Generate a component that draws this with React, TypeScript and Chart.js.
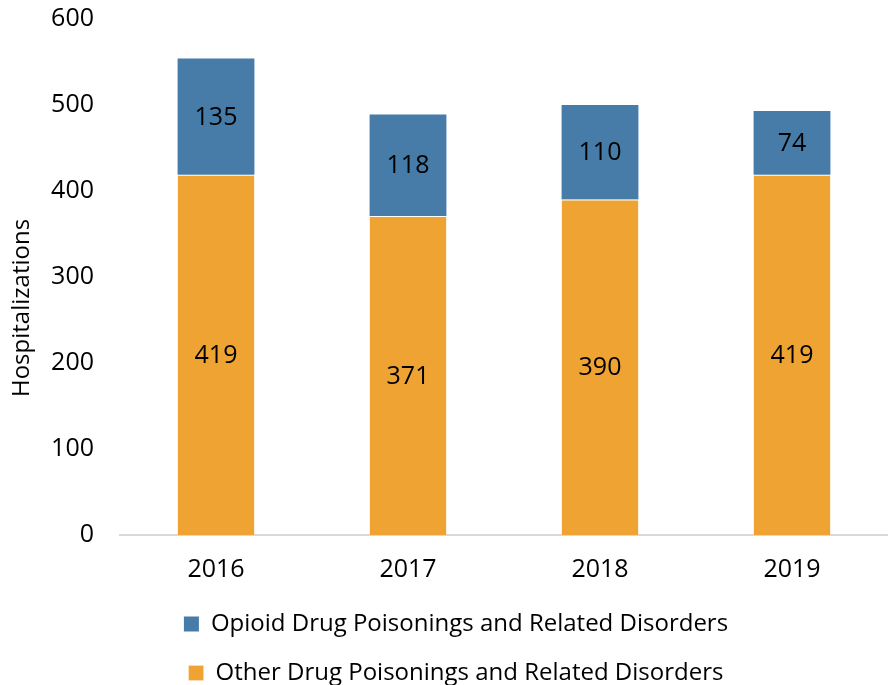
import React, { useEffect, useRef } from "react";
import { Chart, registerables } from "chart.js";

Chart.register(...registerables);

const categories = ["2016", "2017", "2018", "2019"];
const otherValues = [419, 371, 390, 419];
const opioidValues = [135, 118, 110, 74];
const yTicks = [0, 100, 200, 300, 400, 500, 600];
const yTitle = "Hospitalizations";

const FONT = "'Open Sans', 'Liberation Sans', sans-serif";

const valueLabels = {
  id: "valueLabels",
  afterDatasetsDraw(chart: any) {
    const ctx = chart.ctx;
    ctx.save();
    ctx.font = `25px ${FONT}`;
    ctx.fillStyle = "#000";
    ctx.textAlign = "center";
    ctx.textBaseline = "middle";
    chart.data.datasets.forEach((ds: any, di: number) => {
      const meta = chart.getDatasetMeta(di);
      meta.data.forEach((bar: any, i: number) => {
        const p = bar.getProps(["x", "y", "base"], true);
        ctx.fillText(String(ds.data[i]), p.x, (p.y + p.base) / 2 + 1);
      });
    });
    ctx.restore();
  },
};

const yTitlePlugin = {
  id: "yTitlePlugin",
  afterDraw(chart: any) {
    const ctx = chart.ctx;
    const area = chart.chartArea;
    ctx.save();
    ctx.font = `24px ${FONT}`;
    ctx.fillStyle = "#000";
    ctx.textAlign = "center";
    ctx.textBaseline = "middle";
    ctx.translate(22, area.top + (area.bottom - area.top) * 0.56);
    ctx.rotate(-Math.PI / 2);
    ctx.fillText(yTitle, 0, 0);
    ctx.restore();
  },
};

const legendShift = {
  id: "legendShift",
  afterLayout(chart: any) {
    if (chart.legend) {
      chart.legend.left += 12;
      chart.legend.right += 12;
    }
  },
};

export default function App() {
  const ref = useRef<HTMLCanvasElement>(null);
  useEffect(() => {
    if (!ref.current) return;
    const chart = new Chart(ref.current, {
      type: "bar",
      data: {
        labels: categories,
        datasets: [
          {
            label: "Other Drug Poisonings and Related Disorders",
            data: otherValues,
            backgroundColor: "#EFA332",
            borderColor: "#ffffff",
            borderWidth: { top: 1 },
            borderSkipped: false,
            categoryPercentage: 1,
            barPercentage: 0.4,
          },
          {
            label: "Opioid Drug Poisonings and Related Disorders",
            data: opioidValues,
            backgroundColor: "#477CA8",
            borderWidth: 0,
            categoryPercentage: 1,
            barPercentage: 0.4,
          },
        ],
      },
      options: {
        animation: false,
        responsive: false,
        maintainAspectRatio: false,
        layout: { padding: { top: 19, right: 0, left: 0, bottom: 0 } },
        scales: {
          x: {
            stacked: true,
            afterFit: (axis: any) => {
              axis.height = 52;
            },
            grid: { display: false, drawTicks: false },
            border: { display: true, color: "#D9D9D9", width: 2 },
            ticks: { color: "#000", font: { family: FONT, size: 25 }, padding: 20 },
          },
          y: {
            stacked: true,
            min: 0,
            max: 600,
            afterBuildTicks: (axis: any) => {
              axis.ticks = yTicks.map((v) => ({ value: v }));
            },
            afterFit: (axis: any) => {
              axis.width = 120;
              axis.paddingTop = 0;
              axis.paddingBottom = 0;
            },
            grid: { display: false, drawTicks: false },
            border: { display: false },
            ticks: { color: "#000", font: { family: FONT, size: 25 }, padding: 26 },
            title: { display: false },
          },
        },
        plugins: {
          tooltip: { enabled: false },
          legend: {
            position: "bottom",
            reverse: true,
            labels: {
              color: "#000",
              font: { family: FONT, size: 24 },
              boxWidth: 15,
              boxHeight: 15,
              padding: 25,
            },
          },
        },
      },
      plugins: [valueLabels, legendShift, yTitlePlugin],
    });
    return () => chart.destroy();
  }, []);
  return (
    <div style={{ position: "fixed", left: 0, top: 0, width: 888, height: 685, overflow: "hidden", background: "#fff" }}>
      <canvas ref={ref} width={888} height={695} style={{ display: "block" }} />
    </div>
  );
}
